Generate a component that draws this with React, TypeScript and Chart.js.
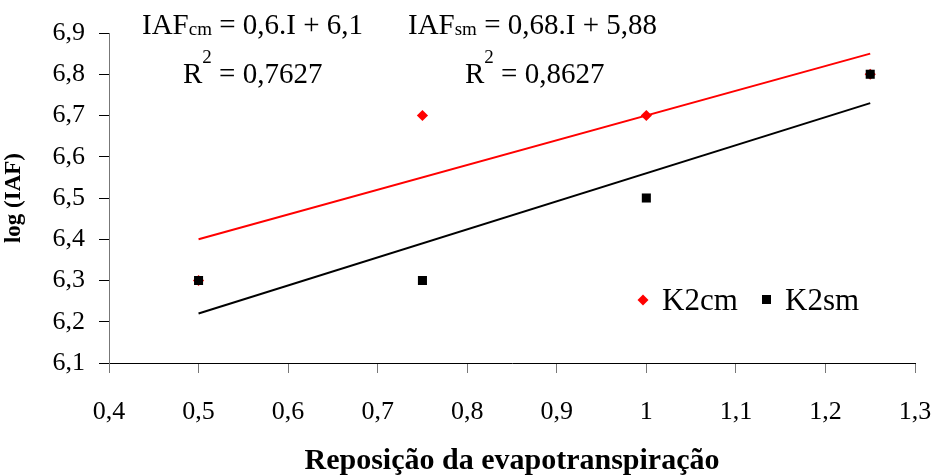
import { useEffect, useRef } from 'react';
import { Chart, registerables } from 'chart.js';

Chart.register(...registerables);

const FAMILY = '"Liberation Serif", "Times New Roman", serif';

// Observed data
const reposicao = [0.5, 0.75, 1.0, 1.25];
const k2cm = [6.3, 6.7, 6.7, 6.8];
const k2sm = [6.3, 6.3, 6.5, 6.8];

// Trend line end points
const trendX = [0.5, 1.25];
const trendCm = [6.4, 6.85];
const trendSm = [6.22, 6.73];

// Axis ticks
const xTickValues = [0.4, 0.5, 0.6, 0.7, 0.8, 0.9, 1.0, 1.1, 1.2, 1.3];
const xTickLabels = ['0,4', '0,5', '0,6', '0,7', '0,8', '0,9', '1', '1,1', '1,2', '1,3'];
const yTickValues = [6.1, 6.2, 6.3, 6.4, 6.5, 6.6, 6.7, 6.8, 6.9];
const yTickLabels = ['6,1', '6,2', '6,3', '6,4', '6,5', '6,6', '6,7', '6,8', '6,9'];

const seriesNames = ['K2cm', 'K2sm'];

type Run = [string, number, number];

function drawRuns(ctx: CanvasRenderingContext2D, x: number, y: number, runs: Run[]) {
  let cx = x;
  for (const [text, size, dy] of runs) {
    ctx.font = `${size}px ${FAMILY}`;
    ctx.fillText(text, cx, y + dy);
    cx += ctx.measureText(text).width;
  }
}

const annotationPlugin = {
  id: 'annotations',
  afterDraw(chart: any) {
    const ctx: CanvasRenderingContext2D = chart.ctx;
    ctx.save();
    ctx.fillStyle = '#000';
    ctx.textBaseline = 'alphabetic';
    ctx.textAlign = 'left';
    // Equations
    drawRuns(ctx, 142, 34, [['IAF', 29, 0], ['cm', 19, 1], [' = 0,6.I + 6,1', 29, 0]]);
    drawRuns(ctx, 183, 83, [['R', 29, 0], ['2', 19, -20], [' = 0,7627', 29, 0]]);
    drawRuns(ctx, 408, 34, [['IAF', 29, 0], ['sm', 19, 1], [' = 0,68.I + 5,88', 29, 0]]);
    drawRuns(ctx, 465, 83, [['R', 29, 0], ['2', 19, -20], [' = 0,8627', 29, 0]]);

    // Legend
    ctx.fillStyle = '#ff0000';
    ctx.beginPath();
    ctx.moveTo(643, 294.5);
    ctx.lineTo(648.5, 300);
    ctx.lineTo(643, 305.5);
    ctx.lineTo(637.5, 300);
    ctx.closePath();
    ctx.fill();
    ctx.fillStyle = '#000';
    ctx.fillRect(762, 295, 9, 9);
    ctx.font = `31px ${FAMILY}`;
    ctx.fillText(seriesNames[0], 662, 310);
    ctx.fillText(seriesNames[1], 785, 310);
    ctx.restore();
  },
};

export default function App() {
  const ref = useRef<HTMLCanvasElement>(null);

  useEffect(() => {
    if (!ref.current) return;
    const chart = new Chart(ref.current, {
      type: 'scatter',
      data: {
        datasets: [
          {
            label: seriesNames[1],
            data: reposicao.map((x, i) => ({ x, y: k2sm[i] })),
            pointStyle: 'rect',
            pointRadius: 6.4,
            backgroundColor: '#000',
            borderColor: '#000',
            borderWidth: 0,
            showLine: false,
          },
          {
            label: seriesNames[0],
            data: reposicao.map((x, i) => ({ x, y: k2cm[i] })),
            pointStyle: 'rectRot',
            pointRadius: 5.6,
            backgroundColor: '#ff0000',
            borderColor: '#ff0000',
            borderWidth: 0,
            showLine: false,
          },
          {
            label: 'trend cm',
            data: trendX.map((x, i) => ({ x, y: trendCm[i] })),
            showLine: true,
            borderColor: '#ff0000',
            borderWidth: 2,
            pointRadius: 0,
            fill: false,
          },
          {
            label: 'trend sm',
            data: trendX.map((x, i) => ({ x, y: trendSm[i] })),
            showLine: true,
            borderColor: '#000',
            borderWidth: 2,
            pointRadius: 0,
            fill: false,
          },
        ],
      },
      options: {
        responsive: false,
        maintainAspectRatio: false,
        animation: false,
        layout: { padding: { left: 0, top: 33, right: 21, bottom: 0 } },
        plugins: { legend: { display: false }, tooltip: { enabled: false } },
        scales: {
          x: {
            type: 'linear',
            min: 0.4,
            max: 1.3,
            afterBuildTicks: (s: any) => {
              s.ticks = xTickValues.map((v) => ({ value: v }));
            },
            afterFit: (s: any) => {
              s.height = 113;
              s.paddingLeft = 0;
              s.paddingRight = 0;
            },
            grid: { drawOnChartArea: false, drawTicks: true, tickLength: 10, color: '#777' },
            border: { display: true, color: '#000', width: 1 },
            ticks: {
              callback: (_v: any, i: number) => xTickLabels[i],
              font: { family: FAMILY, size: 26 },
              color: '#000',
              padding: 24,
              maxRotation: 0,
              autoSkip: false,
            },
            title: {
              display: true,
              text: 'Reposição da evapotranspiração',
              font: { family: FAMILY, size: 30, weight: 'bold', lineHeight: 1 },
              color: '#000',
              padding: { top: 0, bottom: 0 },
            },
          },
          y: {
            type: 'linear',
            min: 6.1,
            max: 6.9,
            afterBuildTicks: (s: any) => {
              s.ticks = yTickValues.map((v) => ({ value: v }));
            },
            afterFit: (s: any) => {
              s.width = 109;
              s.paddingTop = 0;
              s.paddingBottom = 0;
            },
            grid: { drawOnChartArea: false, drawTicks: true, tickLength: 10, color: '#000' },
            border: { display: true, color: '#777', width: 1 },
            ticks: {
              callback: (_v: any, i: number) => yTickLabels[i],
              font: { family: FAMILY, size: 26 },
              color: '#000',
              padding: 14,
              autoSkip: false,
            },
            title: {
              display: true,
              text: 'log (IAF)',
              font: { family: FAMILY, size: 23, weight: 'bold', lineHeight: 1 },
              color: '#000',
              padding: { top: 3, bottom: 0 },
            },
          },
        },
      },
      plugins: [annotationPlugin],
    });
    return () => chart.destroy();
  }, []);

  return (
    <div style={{ position: 'fixed', left: 0, top: 0, width: 936, height: 476, background: '#fff' }}>
      <canvas ref={ref} width={936} height={476} />
    </div>
  );
}
